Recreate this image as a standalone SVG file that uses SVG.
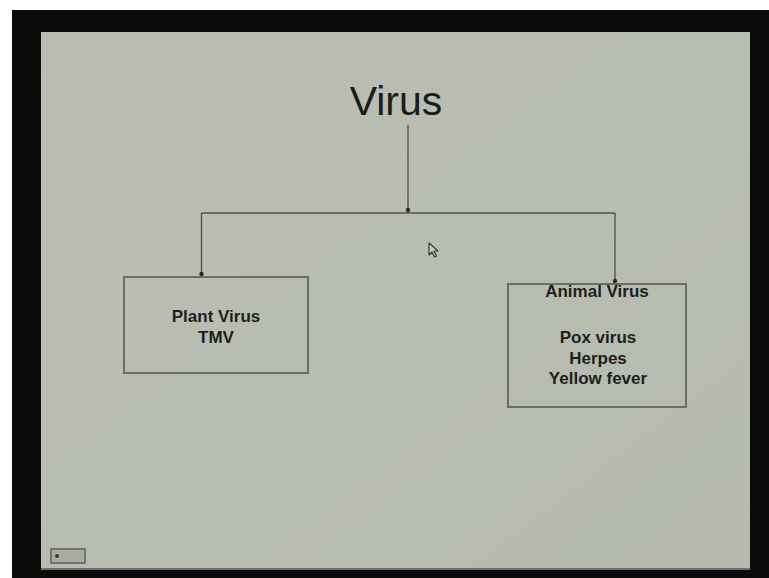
<svg xmlns="http://www.w3.org/2000/svg" width="769" height="578" viewBox="0 0 769 578">
  <style>
    .title { font-family: "Liberation Sans", Arial, sans-serif; font-size: 41px; fill: #1c1d1a; }
    .lbl { font-family: "Liberation Sans", Arial, sans-serif; font-size: 17px; font-weight: bold; fill: #1e1f1c; text-anchor: middle; }
    .box { fill: none; stroke: #6b6d68; stroke-width: 2; }
    .conn { fill: none; stroke: #50524d; stroke-width: 1.4; }
    .dot { fill: #2a2b28; }
  </style>
  <defs>
    <linearGradient id="slideBg" x1="0" y1="0" x2="1" y2="1">
      <stop offset="0" stop-color="#b9bcb2"/>
      <stop offset="0.5" stop-color="#b8bdb1"/>
      <stop offset="1" stop-color="#b5b9ae"/>
    </linearGradient>
  </defs>
  <rect x="0" y="0" width="769" height="578" fill="#ffffff"/>
  <rect x="12" y="10" width="757" height="568" fill="#0b0c09"/>
  <rect x="41" y="32" width="709" height="538" fill="url(#slideBg)"/>
  <line x1="41" y1="569" x2="750" y2="569" stroke="#6e706b" stroke-width="2"/>

  <g id="title">
    <text class="title" x="396" y="115" text-anchor="middle">Virus</text>
  </g>

  <g id="connectors">
    <path class="conn" d="M408,125 V213"/>
    <path class="conn" d="M201.5,213 H615"/>
    <path class="conn" d="M201.5,213 V276"/>
    <path class="conn" d="M615,213 V283"/>
    <circle class="dot" cx="408" cy="210" r="2.2"/>
    <circle class="dot" cx="201.5" cy="274" r="2.2"/>
    <circle class="dot" cx="615" cy="281" r="2.2"/>
  </g>

  <g id="plant-virus">
    <rect class="box" x="124" y="277" width="184" height="96"/>
    <text class="lbl" x="216" y="322">Plant Virus</text>
    <text class="lbl" x="216" y="343">TMV</text>
  </g>

  <g id="animal-virus">
    <rect class="box" x="508" y="284" width="178" height="123"/>
    <text class="lbl" x="597" y="297">Animal Virus</text>
    <text class="lbl" x="598" y="343">Pox virus</text>
    <text class="lbl" x="598" y="364">Herpes</text>
    <text class="lbl" x="598" y="384">Yellow fever</text>
  </g>

  <g id="cursor">
    <path d="M429,243 L429,255 L432,252 L434.5,257 L436.5,256 L434,251 L438,251 Z" fill="#c9ccc3" stroke="#3a3b38" stroke-width="1.2" stroke-linejoin="round"/>
  </g>

  <g id="nav-button">
    <rect x="51" y="549" width="34" height="14" fill="#a9aca3" stroke="#5d5f5a" stroke-width="1.5"/>
    <circle cx="57" cy="556" r="2" fill="#3a3b38"/>
  </g>
</svg>
